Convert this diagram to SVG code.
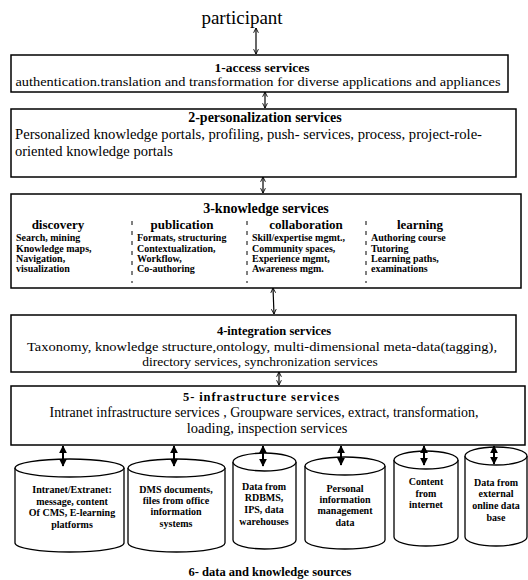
<svg xmlns="http://www.w3.org/2000/svg" width="528" height="580" viewBox="0 0 528 580" font-family="'Liberation Serif', 'DejaVu Serif', serif">
<style>
text{font-family:'Liberation Serif','DejaVu Serif',serif;fill:#000}
.box{fill:#fff;stroke:#000;stroke-width:1.5}
.cyl{fill:#fff;stroke:#000;stroke-width:1.3}
.t{font-size:14px;font-weight:bold;text-anchor:middle}
.m{text-anchor:middle}
.h{font-size:13px;font-weight:bold;text-anchor:middle}
.s{font-size:10px;font-weight:bold}
.c{font-size:10px;font-weight:bold;text-anchor:middle}
.sep{stroke:#000;stroke-width:1;stroke-dasharray:4,6}
.thin{stroke:#000;stroke-width:1.2;fill:none;marker-start:url(#oa);marker-end:url(#oa)}
.thick{stroke:#000;stroke-width:2;fill:none;marker-start:url(#fa);marker-end:url(#fa)}
</style>
<defs>
<marker id="oa" viewBox="0 0 10 10" refX="9" refY="5" markerWidth="6" markerHeight="6" orient="auto-start-reverse" markerUnits="userSpaceOnUse">
<path d="M1,1 L9,5 L1,9" fill="none" stroke="#000" stroke-width="1.5"/>
</marker>
<marker id="fa" viewBox="0 0 10 10" refX="9" refY="5" markerWidth="8" markerHeight="8" orient="auto-start-reverse" markerUnits="userSpaceOnUse">
<path d="M0,0 L10,5 L0,10 z" fill="#000"/>
</marker>
</defs>

<g id="participant">
<text x="242" y="24" class="m" style="font-size:19px">participant</text>
</g>

<g id="access-services">
<rect class="box" x="11" y="55" width="497" height="37"/>
<text x="262" y="72" class="t" style="font-size:13.5px">1-access services</text>
<text x="258" y="86" class="m" style="font-size:12.5px" textLength="485" lengthAdjust="spacingAndGlyphs">authentication.translation and transformation for diverse applications and appliances</text>
</g>

<g id="personalization-services">
<rect class="box" x="11" y="109" width="505" height="68"/>
<text x="265" y="122" class="t">2-personalization  services</text>
<text x="15" y="139" style="font-size:14.5px" textLength="467" lengthAdjust="spacingAndGlyphs">Personalized knowledge portals, profiling, push- services, process, project-role-</text>
<text x="15" y="156" style="font-size:14.5px">oriented knowledge portals</text>
</g>

<g id="knowledge-services">
<rect class="box" x="11" y="194" width="510" height="94"/>
<text x="266" y="213" class="t">3-knowledge services</text>
<text x="58" y="229" class="h">discovery</text>
<text x="182" y="229" class="h">publication</text>
<text x="306" y="229" class="h">collaboration</text>
<text x="420" y="229" class="h">learning</text>
<line class="sep" x1="132" y1="221" x2="132" y2="283"/>
<line class="sep" x1="247" y1="221" x2="247" y2="283"/>
<line class="sep" x1="366" y1="221" x2="366" y2="283"/>
<text class="s" x="16" y="241">Search, mining</text>
<text class="s" x="16" y="252">Knowledge maps,</text>
<text class="s" x="16" y="262">Navigation,</text>
<text class="s" x="16" y="272">visualization</text>
<text class="s" x="137" y="241">Formats, structuring</text>
<text class="s" x="137" y="252">Contextualization,</text>
<text class="s" x="137" y="262">Workflow,</text>
<text class="s" x="137" y="272">Co-authoring</text>
<text class="s" x="252" y="241">Skill/expertise mgmt.,</text>
<text class="s" x="252" y="252">Community spaces,</text>
<text class="s" x="252" y="262">Experience mgmt,</text>
<text class="s" x="252" y="272">Awareness mgm.</text>
<text class="s" x="371" y="241">Authoring course</text>
<text class="s" x="371" y="252">Tutoring</text>
<text class="s" x="371" y="262">Learning paths,</text>
<text class="s" x="371" y="272">examinations</text>
</g>

<g id="integration-services">
<rect class="box" x="11" y="315" width="505" height="57"/>
<text x="274" y="335" class="t" style="font-size:12.5px">4-integration services</text>
<text x="262" y="351" class="m" style="font-size:13.5px" textLength="470" lengthAdjust="spacingAndGlyphs">Taxonomy, knowledge structure,ontology, multi-dimensional meta-data(tagging),</text>
<text x="260" y="366" class="m" style="font-size:13.5px">directory services, synchronization services</text>
</g>

<g id="infrastructure-services">
<rect class="box" x="11" y="386" width="514" height="59"/>
<text x="261" y="401" class="t" style="font-size:12.5px" textLength="156" lengthAdjust="spacing">5- infrastructure services</text>
<text x="264" y="417" class="m" style="font-size:14px" textLength="429" lengthAdjust="spacingAndGlyphs">Intranet infrastructure services , Groupware services, extract, transformation,</text>
<text x="267" y="433" class="m" style="font-size:14.5px">loading, inspection services</text>
</g>

<g id="source-intranet">
<path class="cyl" d="M15,468 A54.5,9 0 0 1 124,468 L124,543 A54.5,9 0 0 1 15,543 Z"/>
<path class="cyl" d="M15,468 A54.5,9 0 0 0 124,468"/>
<text class="c" x="72" y="493">Intranet/Extranet:</text>
<text class="c" x="72" y="505">message, content</text>
<text class="c" x="72" y="516">Of CMS, E-learning</text>
<text class="c" x="72" y="528">platforms</text>
</g>

<g id="source-dms">
<path class="cyl" d="M128,468 A48.5,9 0 0 1 225,468 L225,543 A48.5,9 0 0 1 128,543 Z"/>
<path class="cyl" d="M128,468 A48.5,9 0 0 0 225,468"/>
<text class="c" x="176" y="493">DMS documents,</text>
<text class="c" x="176" y="504">files from office</text>
<text class="c" x="176" y="515">information</text>
<text class="c" x="176" y="527">systems</text>
</g>

<g id="source-rdbms">
<path class="cyl" d="M233,462 A31.5,9 0 0 1 296,462 L296,540 A31.5,9 0 0 1 233,540 Z"/>
<path class="cyl" d="M233,462 A31.5,9 0 0 0 296,462"/>
<text class="c" x="264" y="490">Data from</text>
<text class="c" x="264" y="501">RDBMS,</text>
<text class="c" x="264" y="513">IPS, data</text>
<text class="c" x="264" y="525">warehouses</text>
</g>

<g id="source-personal">
<path class="cyl" d="M305,466 A40,9 0 0 1 385,466 L385,540 A40,9 0 0 1 305,540 Z"/>
<path class="cyl" d="M305,466 A40,9 0 0 0 385,466"/>
<text class="c" x="345" y="492">Personal</text>
<text class="c" x="345" y="503">information</text>
<text class="c" x="345" y="514">management</text>
<text class="c" x="345" y="526">data</text>
</g>

<g id="source-internet">
<path class="cyl" d="M394,460 A32,9 0 0 1 458,460 L458,537 A32,9 0 0 1 394,537 Z"/>
<path class="cyl" d="M394,460 A32,9 0 0 0 458,460"/>
<text class="c" x="426" y="485">Content</text>
<text class="c" x="426" y="497">from</text>
<text class="c" x="426" y="508">internet</text>
</g>

<g id="source-external">
<path class="cyl" d="M465,456 A31,9 0 0 1 527,456 L527,537 A31,9 0 0 1 465,537 Z"/>
<path class="cyl" d="M465,456 A31,9 0 0 0 527,456"/>
<text class="c" x="496" y="486">Data from</text>
<text class="c" x="496" y="497">external</text>
<text class="c" x="496" y="509">online data</text>
<text class="c" x="496" y="521">base</text>
</g>

<g id="sources-label">
<text x="270" y="576" class="t" style="font-size:12.5px">6- data and knowledge sources</text>
</g>

<g id="connectors">
<line class="thin" x1="256" y1="28" x2="256" y2="54"/>
<line class="thin" x1="265" y1="92" x2="265" y2="108"/>
<line class="thin" x1="263" y1="177" x2="263" y2="193"/>
<line class="thin" x1="273" y1="288" x2="274" y2="314"/>
<line class="thin" x1="279" y1="372" x2="279" y2="385"/>
<line class="thick" x1="63" y1="446" x2="63" y2="466"/>
<line class="thick" x1="174" y1="446" x2="174" y2="466"/>
<line class="thick" x1="263" y1="446" x2="263" y2="466"/>
<line class="thick" x1="341" y1="446" x2="341" y2="465"/>
<line class="thick" x1="424" y1="446" x2="424" y2="465"/>
<line class="thick" x1="494" y1="446" x2="494" y2="464"/>
</g>
</svg>
